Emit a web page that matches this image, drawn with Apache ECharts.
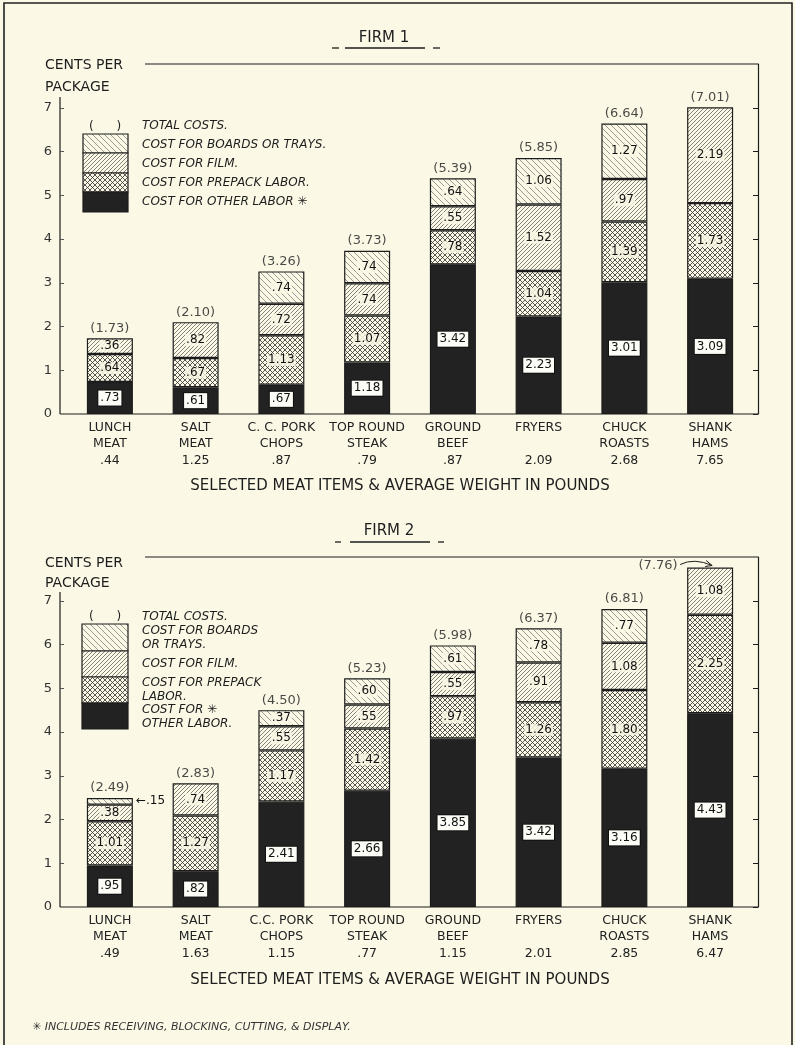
<!DOCTYPE html>
<html>
<head>
<meta charset="utf-8">
<script src="https://cdn.jsdelivr.net/npm/echarts@6/dist/echarts.min.js"></script>
<style>
html,body{margin:0;padding:0;background:#fbf9e6;}
#main{width:795px;height:1045px;}
</style>
</head>
<body>
<div id="main"></div>
<script>
var categories1 = ['LUNCH\nMEAT', 'SALT\nMEAT', 'C. C. PORK\nCHOPS', 'TOP ROUND\nSTEAK', 'GROUND\nBEEF', 'FRYERS\n', 'CHUCK\nROASTS', 'SHANK\nHAMS'];
var categories2 = ['LUNCH\nMEAT', 'SALT\nMEAT', 'C.C. PORK\nCHOPS', 'TOP ROUND\nSTEAK', 'GROUND\nBEEF', 'FRYERS\n', 'CHUCK\nROASTS', 'SHANK\nHAMS'];
var weights1 = ['.44', '1.25', '.87', '.79', '.87', '2.09', '2.68', '7.65'];
var weights2 = ['.49', '1.63', '1.15', '.77', '1.15', '2.01', '2.85', '6.47'];

// firm 1
var otherLabor1 = [0.73, 0.61, 0.67, 1.18, 3.42, 2.23, 3.01, 3.09];
var prepack1 = [0.64, 0.67, 1.13, 1.07, 0.78, 1.04, 1.39, 1.73];
var film1 = [0.36, 0.82, 0.72, 0.74, 0.55, 1.52, 0.97, 2.19];
var boards1 = [0, 0, 0.74, 0.74, 0.64, 1.06, 1.27, 0];
var total1 = [1.73, 2.10, 3.26, 3.73, 5.39, 5.85, 6.64, 7.01];

// firm 2
var otherLabor2 = [0.95, 0.82, 2.41, 2.66, 3.85, 3.42, 3.16, 4.43];
var prepack2 = [1.01, 1.27, 1.17, 1.42, 0.97, 1.26, 1.80, 2.25];
var film2 = [0.38, 0.74, 0.55, 0.55, 0.55, 0.91, 1.08, 1.08];
var boards2 = [0.15, 0, 0.37, 0.60, 0.61, 0.78, 0.77, 0];
var total2 = [2.49, 2.83, 4.50, 5.23, 5.98, 6.37, 6.81, 7.76];

var yTicks = [0, 1, 2, 3, 4, 5, 6, 7];
var BG = '#fbf9e6';
var INK = '#1c1c1c';
var FONT = 'DejaVu Sans';

function hatch(dirs, gap, color, lw) {
    var c = document.createElement('canvas');
    c.width = gap; c.height = gap;
    var g = c.getContext('2d');
    g.fillStyle = BG; g.fillRect(0, 0, gap, gap);
    g.strokeStyle = color; g.lineWidth = lw;
    dirs.forEach(function (d) {
        g.beginPath();
        if (d === '/') {
            g.moveTo(0, gap); g.lineTo(gap, 0);
            g.moveTo(-1, 1); g.lineTo(1, -1);
            g.moveTo(gap - 1, gap + 1); g.lineTo(gap + 1, gap - 1);
        } else {
            g.moveTo(0, 0); g.lineTo(gap, gap);
            g.moveTo(-1, gap - 1); g.lineTo(1, gap + 1);
            g.moveTo(gap - 1, -1); g.lineTo(gap + 1, 1);
        }
        g.stroke();
    });
    return { image: c, repeat: 'repeat' };
}

var patBoards = hatch(['\\'], 6, '#6e6e6e', 0.7);
var patFilm = hatch(['/'], 4, '#5a5a5a', 0.75);
var patPrepack = hatch(['/', '\\'], 5, '#3a3a3a', 0.85);
var colOther = '#222222';

function fmt(v) {
    return v < 1 ? v.toFixed(2).slice(1) : v.toFixed(2);
}
function toData(arr) {
    return arr.map(function (v) { return v === 0 ? '-' : v; });
}

var blackLabel = {
    show: true, position: 'inside', color: '#111', fontSize: 12, fontFamily: FONT,
    backgroundColor: '#fdfdf7', borderColor: '#111', borderWidth: 1, padding: [2, 2, 1, 2],
    formatter: function (p) { return fmt(p.value); }
};
var hatchLabel = {
    show: true, position: 'inside', color: '#111', fontSize: 12, fontFamily: FONT,
    backgroundColor: 'rgba(251,249,230,0.85)', padding: [0, 1],
    formatter: function (p) { return fmt(p.value); }
};

function barSeries(name, data, stack, idx, fill, label) {
    return {
        name: name, type: 'bar', stack: stack, barWidth: 46,
        xAxisIndex: idx, yAxisIndex: idx * 2,
        data: data,
        itemStyle: { color: fill, borderColor: INK, borderWidth: 1.2 },
        label: label
    };
}

function totalSeries(totals, idx) {
    return {
        type: 'scatter', xAxisIndex: idx, yAxisIndex: idx * 2,
        symbol: 'circle', symbolSize: 1, itemStyle: { color: 'rgba(0,0,0,0)' },
        z: 5, silent: true,
        data: totals,
        label: {
            show: true, position: 'top', distance: 3, color: '#1a1a1a', fontSize: 13, fontFamily: FONT,
            formatter: function (p) { return '(' + p.value.toFixed(2) + ')'; }
        }
    };
}

var boardsData2 = toData(boards2);
boardsData2[0] = {
    value: boards2[0],
    label: { position: 'right', distance: 2, backgroundColor: 'transparent', formatter: '\u2190.15' }
};

var totalData2 = total2.slice();
totalData2[7] = { value: total2[7], label: { position: 'left', distance: 32, offset: [0, -2] } };

function xAxisOf(idx, cats, weights) {
    return {
        type: 'category', gridIndex: idx, data: cats,
        axisLine: { show: false }, axisTick: { show: false },
        axisLabel: {
            interval: 0, margin: 5, color: '#222', fontSize: 12.5, fontFamily: FONT, lineHeight: 16.5,
            formatter: function (v, i) { return v + '\n' + weights[i]; }
        }
    };
}
function yLeft(idx) {
    return {
        type: 'value', gridIndex: idx, min: 0, max: 8, interval: 1, offset: 7,
        splitLine: { show: false }, axisLine: { show: false },
        axisTick: { show: true, inside: true, length: 4, customValues: [1, 2, 3, 4, 5, 6, 7], lineStyle: { color: '#555' } },
        axisLabel: {
            customValues: yTicks, color: '#333', fontSize: 13, fontFamily: FONT, margin: 8,
            formatter: function (v) { return v === 8 ? '' : v; }
        }
    };
}
function yRight(idx) {
    return {
        type: 'value', gridIndex: idx, min: 0, max: 8, interval: 1, position: 'right', offset: 5,
        splitLine: { show: false },
        axisLine: { show: true, lineStyle: { color: INK, width: 1.2 } },
        axisTick: { show: true, inside: true, length: 5, customValues: yTicks, lineStyle: { color: INK } },
        axisLabel: { show: false }
    };
}

function line(x1, y1, x2, y2, w) {
    return { type: 'line', shape: { x1: x1, y1: y1, x2: x2, y2: y2 }, style: { stroke: INK, lineWidth: w || 1.2 }, silent: true };
}
function txt(x, y, s, size, opts) {
    opts = opts || {};
    return {
        type: 'text', x: x, y: y, silent: true,
        style: {
            text: s, fill: opts.fill || '#1e1e1e', fontSize: size, fontFamily: FONT,
            fontStyle: opts.italic ? 'italic' : 'normal',
            align: opts.align || 'left', verticalAlign: 'middle'
        }
    };
}
function box(x, y, w, h, fill) {
    return { type: 'rect', shape: { x: x, y: y, width: w, height: h }, style: { fill: fill, stroke: INK, lineWidth: 1.2 }, silent: true };
}

var graphics = [
    { type: 'rect', shape: { x: 4, y: 3, width: 788, height: 1060 }, style: { fill: 'none', stroke: '#222', lineWidth: 1.6 }, silent: true },
    // firm 1 heading
    txt(384, 38, 'FIRM 1', 15, { align: 'center' }),
    line(345, 48, 425, 48, 1.3), line(332, 48, 339, 48, 1.3), line(433, 48, 440, 48, 1.3),
    txt(45, 65, 'CENTS PER', 14), txt(45, 87, 'PACKAGE', 14),
    line(145, 64, 758, 64), line(60, 97, 60, 414), line(60, 414, 758, 414),
    txt(400, 486, 'SELECTED MEAT ITEMS & AVERAGE WEIGHT IN POUNDS', 15, { align: 'center' }),
    // firm 1 legend
    txt(105, 127, '(      )', 12, { align: 'center' }),
    box(83, 134, 45, 19, patBoards), box(83, 153, 45, 20, patFilm),
    box(83, 173, 45, 19, patPrepack), box(83, 192, 45, 20, colOther),
    txt(142, 126, 'TOTAL COSTS.', 12, { italic: true }),
    txt(142, 145, 'COST FOR BOARDS OR TRAYS.', 12, { italic: true }),
    txt(142, 164, 'COST FOR FILM.', 12, { italic: true }),
    txt(142, 183, 'COST FOR PREPACK LABOR.', 12, { italic: true }),
    txt(142, 202, 'COST FOR OTHER LABOR \u2733', 12, { italic: true }),
    // firm 2 heading
    txt(389, 531, 'FIRM 2', 15, { align: 'center' }),
    line(350, 542, 430, 542, 1.3), line(335, 542, 341, 542, 1.3), line(438, 542, 444, 542, 1.3),
    txt(45, 563, 'CENTS PER', 14), txt(45, 583, 'PACKAGE', 14),
    line(145, 557, 758, 557), line(60, 592, 60, 907), line(60, 907, 758, 907),
    txt(400, 980, 'SELECTED MEAT ITEMS & AVERAGE WEIGHT IN POUNDS', 15, { align: 'center' }),
    // firm 2 legend
    txt(105, 617, '(      )', 12, { align: 'center' }),
    box(82, 624, 46, 27, patBoards), box(82, 651, 46, 26, patFilm),
    box(82, 677, 46, 26, patPrepack), box(82, 703, 46, 26, colOther),
    txt(142, 617, 'TOTAL COSTS.', 12, { italic: true }),
    txt(142, 631, 'COST FOR BOARDS', 12, { italic: true }),
    txt(142, 645, 'OR TRAYS.', 12, { italic: true }),
    txt(142, 664, 'COST FOR FILM.', 12, { italic: true }),
    txt(142, 683, 'COST FOR PREPACK', 12, { italic: true }),
    txt(142, 697, 'LABOR.', 12, { italic: true }),
    txt(142, 710, 'COST FOR \u2733', 12, { italic: true }),
    txt(142, 724, 'OTHER LABOR.', 12, { italic: true }),
    // footnote
    txt(32, 1027, '\u2733 INCLUDES RECEIVING, BLOCKING, CUTTING, & DISPLAY.', 11, { italic: true, fill: '#333' })
];

var chart = echarts.init(document.getElementById('main'), null, { renderer: 'canvas' });
var option = {
    backgroundColor: BG,
    animation: false,
    grid: [
        { left: 67, width: 686, top: 64, height: 350 },
        { left: 67, width: 686, top: 557, height: 350 }
    ],
    xAxis: [xAxisOf(0, categories1, weights1), xAxisOf(1, categories2, weights2)],
    yAxis: [yLeft(0), yRight(0), yLeft(1), yRight(1)],
    series: [
        barSeries('other1', toData(otherLabor1), 'f1', 0, colOther, blackLabel),
        barSeries('prepack1', toData(prepack1), 'f1', 0, patPrepack, hatchLabel),
        barSeries('film1', toData(film1), 'f1', 0, patFilm, hatchLabel),
        barSeries('boards1', toData(boards1), 'f1', 0, patBoards, hatchLabel),
        totalSeries(total1, 0),
        barSeries('other2', toData(otherLabor2), 'f2', 1, colOther, blackLabel),
        barSeries('prepack2', toData(prepack2), 'f2', 1, patPrepack, hatchLabel),
        barSeries('film2', toData(film2), 'f2', 1, patFilm, hatchLabel),
        barSeries('boards2', boardsData2, 'f2', 1, patBoards, hatchLabel),
        totalSeries(totalData2, 1)
    ],
    graphic: graphics
};
chart.setOption(option);

// curved arrow from the (7.76) label to the top of the shank hams bar
var p = chart.convertToPixel({ xAxisIndex: 1, yAxisIndex: 2 }, [7, total2[7]]);
chart.setOption({
    graphic: graphics.concat([
        { type: 'bezierCurve', silent: true,
          shape: { x1: p[0] - 30, y1: p[1] - 3, cpx1: p[0] - 16, cpy1: p[1] - 10, x2: p[0] + 2, y2: p[1] - 2 },
          style: { stroke: INK, lineWidth: 1, fill: 'none' } },
        { type: 'polyline', silent: true,
          shape: { points: [[p[0] - 4, p[1] - 7], [p[0] + 2, p[1] - 2], [p[0] - 5, p[1] - 1]] },
          style: { stroke: INK, lineWidth: 1, fill: 'none' } }
    ])
});
</script>
</body>
</html>
